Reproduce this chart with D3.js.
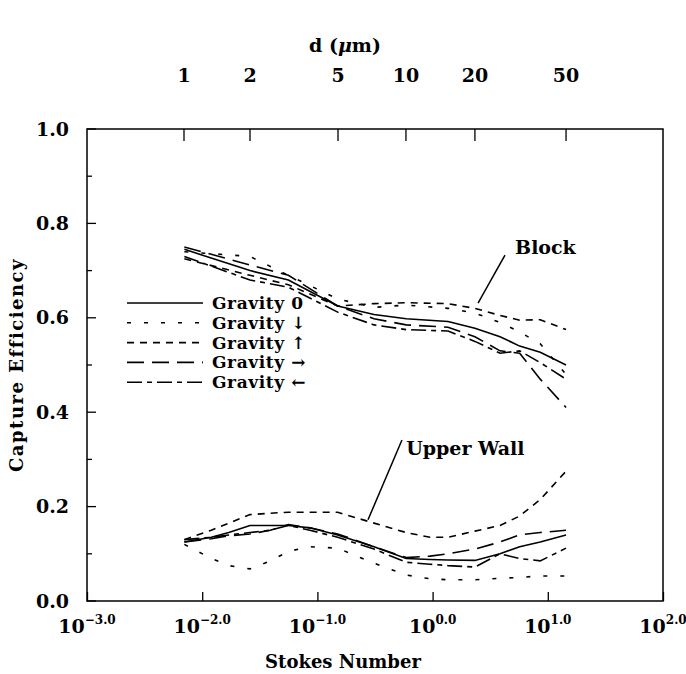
<!DOCTYPE html>
<html><head><meta charset="utf-8">
<script src="https://cdn.jsdelivr.net/npm/d3@7"></script>
<style>
body{margin:0;background:#fff;}
text{font-family:"DejaVu Serif",serif;font-weight:bold;fill:#000;}
</style></head>
<body><svg id="c" width="686" height="674"></svg>
<script>
// ---- data ----
const xTickExps = [-3, -2, -1, 0, 1, 2];
const yTicks = [0.0, 0.2, 0.4, 0.6, 0.8, 1.0];
const dTicks = [1, 2, 5, 10, 20, 50];
const dStokes = [0.00695, 0.026, 0.151, 0.587, 2.33, 14.4];

const seriesNames = ["Gravity 0", "Gravity \u2193", "Gravity \u2191", "Gravity \u2192", "Gravity \u2190"];

const blockStokes = [0.007, 0.026, 0.056, 0.15, 0.31, 0.59, 1.36, 2.33, 3.85, 5.7, 8.6, 14.4];
const blockG0    = [.745,.700,.680,.625,.607,.598,.592,.578,.560,.540,.527,.500];
const blockDown  = [.740,.730,.690,.640,.622,.627,.620,.610,.590,.570,.545,.480];
const blockUp    = [.725,.690,.670,.625,.630,.632,.630,.620,.605,.595,.596,.575];
const blockRight = [.750,.712,.690,.625,.598,.585,.580,.560,.530,.525,.470,.410];
const blockLeft  = [.730,.680,.665,.612,.585,.575,.572,.550,.525,.530,.505,.470];

const wallStokes = [0.007,0.012,0.017,0.026,0.039,0.056,0.086,0.15,0.31,0.59,0.95,1.36,2.33,3.85,5.7,8.6,14.4];
const wallG0    = [.125,.135,.145,.160,.160,.160,.155,.140,.115,.090,.088,.087,.086,.100,.115,.125,.140];
const wallUp    = [.130,.150,.165,.183,.186,.188,.188,.188,.165,.145,.135,.135,.148,.160,.180,.215,.275];
const wallDown  = [.120,.090,.075,.068,.085,.105,.115,.112,.080,.055,.047,.045,.045,.048,.050,.053,.053];
const wallRight = [.125,.132,.138,.142,.150,.162,.155,.142,.115,.092,.095,.100,.110,.125,.140,.145,.150];
const wallLeft  = [.130,.135,.140,.145,.150,.160,.150,.135,.110,.082,.078,.075,.072,.100,.090,.085,.112];

// annotations (stokes, value)
const blockLabel = {text:"Block", st:5.2, v:0.735, lx1:4.25, ly1:0.733, lx2:2.48, ly2:0.631};
const wallLabel = {text:"Upper Wall", st:0.59, v:0.31, lx1:0.542, ly1:0.341, lx2:0.275, ly2:0.172};

// ---- drawing ----
const svg = d3.select("#c");
const L = 87, R = 663, T = 129, B = 601;
const x = d3.scaleLog().domain([1e-3, 1e2]).range([L, R]);
const y = d3.scaleLinear().domain([0, 1]).range([B, T]);

const dashes = ["none", "4,13", "7,6", "17,8", "15,5,5,5"];
const FS = "19px";

// frame
svg.append("rect").attr("x", L).attr("y", T).attr("width", R - L).attr("height", B - T)
  .attr("fill", "none").attr("stroke", "#000").attr("stroke-width", 1.5);

// bottom axis ticks (inward)
const bx = d3.axisBottom(x).tickValues(xTickExps.map(e => Math.pow(10, e))).tickSizeInner(-9).tickSizeOuter(0).tickFormat("");
const gb = svg.append("g").attr("transform", `translate(0,${B})`).call(bx);
gb.select(".domain").remove();
gb.selectAll("line").attr("stroke-width", 1.3);
xTickExps.forEach(e => {
  const t = svg.append("text").attr("x", x(Math.pow(10, e))).attr("y", 633).attr("text-anchor", "middle").style("font-size", FS);
  t.append("tspan").text("10");
  t.append("tspan").attr("dy", -9).style("font-size", "12px").text((e < 0 ? "\u2212" : "") + Math.abs(e).toFixed(1));
});

// left axis ticks: major every 0.2, minor every 0.1
d3.range(0, 1.01, 0.1).forEach((v, i) => {
  const len = (i % 2 === 0) ? 9 : 5;
  svg.append("line").attr("x1", L).attr("x2", L + len).attr("y1", y(v)).attr("y2", y(v)).attr("stroke", "#000").attr("stroke-width", 1.3);
});
yTicks.forEach(v => {
  svg.append("text").attr("x", 69).attr("y", y(v)).attr("dy", "0.35em").attr("text-anchor", "end")
    .style("font-size", FS).text(v.toFixed(1));
});

// top axis (d in micrometres)
dTicks.forEach((d, i) => {
  const px = x(dStokes[i]);
  svg.append("line").attr("x1", px).attr("x2", px).attr("y1", T).attr("y2", T + 12).attr("stroke", "#000").attr("stroke-width", 1.3);
  svg.append("text").attr("x", px).attr("y", 82).attr("text-anchor", "middle").style("font-size", FS).text(d);
});

// titles
svg.append("text").attr("x", 345).attr("y", 52).attr("text-anchor", "middle").style("font-size", FS)
  .html('d (<tspan font-style="italic">\u03bc</tspan>m)');
svg.append("text").attr("x", 343).attr("y", 668).attr("text-anchor", "middle").style("font-size", "18px").text("Stokes Number");
svg.append("text").attr("transform", "translate(23,365) rotate(-90)").attr("text-anchor", "middle")
  .style("font-size", "18px").style("letter-spacing", "1.5px").text("Capture Efficiency");

// lines
const line = d3.line().x(d => x(d[0])).y(d => y(d[1]));
const blockSeries = [blockG0, blockDown, blockUp, blockRight, blockLeft];
const wallSeries = [wallG0, wallDown, wallUp, wallRight, wallLeft];
function draw(xs, series) {
  series.forEach((vals, i) => {
    svg.append("path").datum(xs.map((s, j) => [s, vals[j]])).attr("d", line)
      .attr("fill", "none").attr("stroke", "#000").attr("stroke-width", 1.6)
      .attr("stroke-dasharray", dashes[i]);
  });
}
draw(blockStokes, blockSeries);
draw(wallStokes, wallSeries);

// annotations
[blockLabel, wallLabel].forEach(a => {
  svg.append("line").attr("x1", x(a.lx1)).attr("y1", y(a.ly1)).attr("x2", x(a.lx2)).attr("y2", y(a.ly2))
    .attr("stroke", "#000").attr("stroke-width", 1.5);
  svg.append("text").attr("x", x(a.st)).attr("y", y(a.v)).style("font-size", FS).text(a.text);
});

// legend
seriesNames.forEach((n, i) => {
  const yy = 303 + i * 19.8;
  svg.append("line").attr("x1", 127).attr("x2", 203).attr("y1", yy).attr("y2", yy)
    .attr("stroke", "#000").attr("stroke-width", 1.6).attr("stroke-dasharray", dashes[i]);
  svg.append("text").attr("x", 212).attr("y", yy).attr("dy", "0.35em").style("font-size", "17px")
    .style("letter-spacing", "0.6px").text(n);
});
</script></body></html>
